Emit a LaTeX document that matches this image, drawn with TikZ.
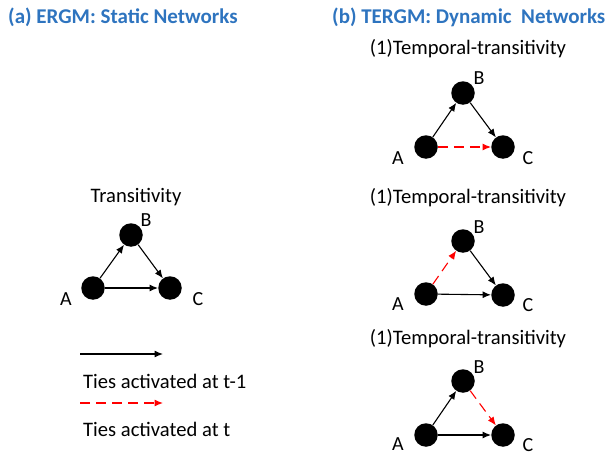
\documentclass[tikz,border=0pt]{standalone}
\usepackage{fontspec}
\setmainfont{Carlito}
\usetikzlibrary{arrows.meta}
\definecolor{titleblue}{RGB}{46,116,191}
\definecolor{tiered}{RGB}{255,0,0}
\begin{document}
\begin{tikzpicture}[x=1pt,y=-1pt,
  dot/.style={circle,fill=black,minimum size=23.5pt,inner sep=0pt},
  lbl/.style={inner sep=0pt,font=\fontsize{20}{24}\selectfont},
  txt/.style={inner sep=0pt,font=\fontsize{20.6}{24}\selectfont},
  ttl/.style={inner sep=0pt,text=titleblue,font=\fontsize{21}{25}\selectfont\bfseries},
  old/.style={draw=black,line width=1.1pt,-{Latex[length=8.5pt,width=7pt]}},
  new/.style={draw=tiered,line width=1.1pt,dash pattern=on 10pt off 6pt,-{Latex[length=8.5pt,width=7pt]}}]
\useasboundingbox (0,0) rectangle (606,455);
% titles
\node[ttl,anchor=west] (ta) at (8,17) {(a) ERGM: Static Networks};
\node[ttl,anchor=west] (tb) at (332,17) {(b) TERGM: Dynamic\ \ Networks};
% left panel
\node[txt] (tl) at (136,197) {Transitivity};
\node[dot] (lA) at (93,288) {};
\node[dot] (lB) at (131,235) {};
\node[dot] (lC) at (170,288) {};
\node[lbl] (lAl) at (66,299) {A};
\node[lbl] (lBl) at (146,220) {B};
\node[lbl] (lCl) at (198,299) {C};
\draw[old] (lA) -- (lB);
\draw[old] (lB) -- (lC);
\draw[old] (lA) -- (lC);
% legend
\coordinate (k1s) at (80,354);
\coordinate (k1e) at (163,354);
\coordinate (k2s) at (80,403);
\coordinate (k2e) at (163,403);
\draw[old] (k1s) -- (k1e);
\node[txt,anchor=west] (k1t) at (83,381) {Ties activated at t-1};
\draw[new] (k2s) -- (k2e);
\node[txt,anchor=west] (k2t) at (83,429) {Ties activated at t};
% right panel 1
\node[txt] (t1) at (468,49) {(1)Temporal-transitivity};
\node[dot] (aA) at (426,147) {};
\node[dot] (aB) at (463,93) {};
\node[dot] (aC) at (503,147) {};
\node[lbl] (aAl) at (398,158) {A};
\node[lbl] (aBl) at (479,78) {B};
\node[lbl] (aCl) at (528,158) {C};
\draw[old] (aA) -- (aB);
\draw[old] (aB) -- (aC);
\draw[new] (aA) -- (aC);
% right panel 2
\node[txt] (t2) at (468,198) {(1)Temporal-transitivity};
\node[dot] (bA) at (426,294) {};
\node[dot] (bB) at (463,241) {};
\node[dot] (bC) at (503,295) {};
\node[lbl] (bAl) at (398,304) {A};
\node[lbl] (bBl) at (479,227) {B};
\node[lbl] (bCl) at (528,305) {C};
\draw[new] (bA) -- (bB);
\draw[old] (bB) -- (bC);
\draw[old] (bA) -- (bC);
% right panel 3
\node[txt] (t3) at (468,339) {(1)Temporal-transitivity};
\node[dot] (cA) at (426,435) {};
\node[dot] (cB) at (463,381) {};
\node[dot] (cC) at (503,435) {};
\node[lbl] (cAl) at (398,444) {A};
\node[lbl] (cBl) at (479,367) {B};
\node[lbl] (cCl) at (528,445) {C};
\draw[old] (cA) -- (cB);
\draw[new] (cB) -- (cC);
\draw[old] (cA) -- (cC);
\end{tikzpicture}
\end{document}
